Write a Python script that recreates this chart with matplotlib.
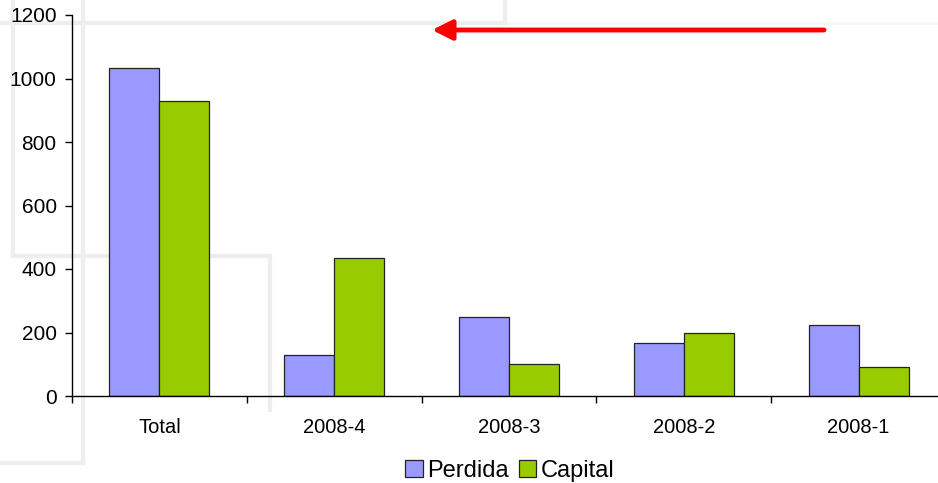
import matplotlib

matplotlib.use("Agg")
import matplotlib.pyplot as plt
import numpy as np

plt.rcParams["font.family"] = ["Liberation Sans", "DejaVu Sans"]

categories = ["Total", "2008-4", "2008-3", "2008-2", "2008-1"]
perdida = [1033, 128, 250, 168, 225]
capital = [928, 434, 100, 197, 90]
series_names = ["Perdida", "Capital"]
y_ticks = [0, 200, 400, 600, 800, 1000, 1200]

W, H = 938, 483
fig = plt.figure(figsize=(W / 100, H / 100), dpi=100)
fig.patch.set_facecolor("white")

# faint slide outlines behind the chart
bg = fig.add_axes([0, 0, 1, 1], zorder=-1)
bg.set_xlim(0, W)
bg.set_ylim(H, 0)
bg.axis("off")
faint = dict(color="#eeeeee", linewidth=3)
bg.plot([0, 505], [23, 23], **faint)
bg.plot([505, W], [23, 23], color="#f6f6f6", linewidth=2)
bg.plot([505, 505], [0, 23], **faint)
bg.plot([13, 13], [0, 256], **faint)
bg.plot([13, 270], [256, 256], **faint)
bg.plot([270, 270], [256, 410], **faint)
bg.plot([83, 83], [0, 463], **faint)
bg.plot([0, 83], [463, 463], **faint)

ax = fig.add_axes([72 / W, 87 / H, 874 / W, 381 / H])
ax.patch.set_alpha(0)

x = np.arange(len(categories))
bw = 1 / 3.5
b1 = ax.bar(x - bw / 2, perdida, bw, color="#9999ff", edgecolor="#222222", linewidth=0.9, label=series_names[0])
b2 = ax.bar(x + bw / 2, capital, bw, color="#99cc00", edgecolor="#222222", linewidth=0.9, label=series_names[1])

ax.set_xlim(-0.5, len(categories) - 0.5)
ax.set_ylim(0, 1200)
ax.set_yticks(y_ticks)
ax.set_yticklabels([str(v) for v in y_ticks], fontsize=15)
ax.set_xticks(x)
ax.set_xticklabels(categories, fontsize=14.5)
ax.set_xticks(np.arange(len(categories) + 1) - 0.5, minor=True)
ax.tick_params(axis="x", which="major", length=0, pad=16)
ax.tick_params(axis="x", which="minor", length=5, width=1, direction="out")
ax.tick_params(axis="y", length=5, width=1, pad=6)
for side in ["top", "right"]:
    ax.spines[side].set_visible(False)
for side in ["left", "bottom"]:
    ax.spines[side].set_linewidth(1)
    ax.spines[side].set_color("#000000")

# red arrow pointing left
bg.annotate("", xy=(432, 30), xytext=(824, 30),
            arrowprops=dict(arrowstyle="-|>,head_length=1.2,head_width=0.6",
                            color="#ff0000", linewidth=3.5, shrinkA=0, shrinkB=0))

leg = fig.legend(handles=[b1, b2], loc="center", bbox_to_anchor=(510 / W, 1 - 471 / H),
                 ncol=2, frameon=True, fontsize=17, handlelength=0.75, handleheight=0.75,
                 handletextpad=0.2, columnspacing=0.4, borderpad=0.1)
leg.get_frame().set_edgecolor("white")
leg.get_frame().set_facecolor("white")

fig.savefig("out.png", dpi=100)
